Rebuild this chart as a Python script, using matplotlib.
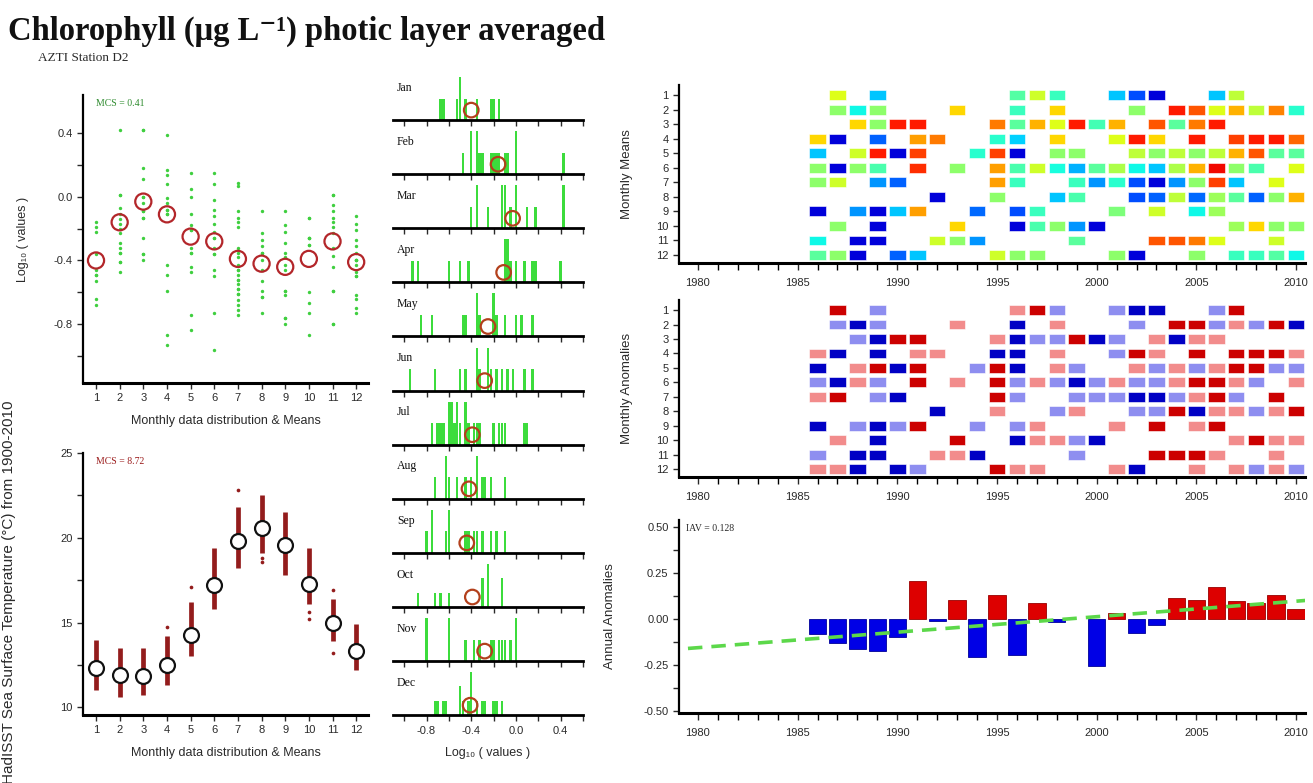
import numpy as np
import matplotlib
matplotlib.use("Agg")
import matplotlib.pyplot as plt
from matplotlib.ticker import MultipleLocator, NullFormatter

# ---------------- data ----------------
months = list(range(1, 13))
month_names = ["Jan", "Feb", "Mar", "Apr", "May", "Jun",
               "Jul", "Aug", "Sep", "Oct", "Nov", "Dec"]

# log10 chlorophyll observations per month
chl_log = [
    [-0.68, -0.64, -0.53, -0.49, -0.49, -0.46, -0.36, -0.22, -0.19, -0.16],
    [-0.47, -0.41, -0.41, -0.35, -0.35, -0.32, -0.29, -0.23, -0.20, -0.17, -0.14, -0.11, -0.07, 0.01, 0.01, 0.42],
    [-0.40, -0.36, -0.36, -0.26, -0.13, -0.13, -0.09, -0.09, -0.04, 0.00, 0.00, 0.11, 0.18, 0.42, 0.42],
    [-0.93, -0.87, -0.59, -0.49, -0.43, -0.11, -0.11, -0.08, -0.08, -0.04, -0.01, 0.08, 0.14, 0.17, 0.39],
    [-0.84, -0.74, -0.47, -0.44, -0.35, -0.35, -0.32, -0.21, -0.21, -0.18, -0.11, 0.00, 0.05, 0.15],
    [-0.96, -0.73, -0.50, -0.46, -0.36, -0.36, -0.32, -0.26, -0.26, -0.22, -0.17, -0.12, -0.08, -0.02, 0.08, 0.15],
    [-0.74, -0.71, -0.68, -0.65, -0.61, -0.61, -0.58, -0.58, -0.55, -0.52, -0.52, -0.49, -0.46, -0.46,
     -0.43, -0.38, -0.35, -0.32, -0.19, -0.16, -0.13, -0.09, 0.07, 0.09],
    [-0.73, -0.63, -0.63, -0.59, -0.53, -0.46, -0.40, -0.35, -0.35, -0.31, -0.27, -0.23, -0.09],
    [-0.80, -0.76, -0.76, -0.62, -0.59, -0.59, -0.46, -0.43, -0.38, -0.35, -0.29, -0.22, -0.18, -0.09],
    [-0.87, -0.73, -0.67, -0.60, -0.30, -0.30, -0.26, -0.26, -0.26, -0.13, -0.13],
    [-0.80, -0.80, -0.59, -0.59, -0.44, -0.37, -0.32, -0.23, -0.19, -0.16, -0.13, -0.09, -0.05, 0.01, 0.01],
    [-0.73, -0.70, -0.64, -0.62, -0.50, -0.50, -0.47, -0.43, -0.40, -0.40, -0.40, -0.35, -0.31, -0.27,
     -0.21, -0.17, -0.12],
]
chl_mean = [-0.40, -0.16, -0.03, -0.11, -0.25, -0.28, -0.39, -0.42, -0.44, -0.39, -0.28, -0.41]
mcs_chl = 0.41

# HadISST SST per month: dense range, isolated points and means
sst_lo = [11.0, 10.6, 10.7, 11.3, 13.0, 15.8, 18.2, 19.1, 17.8, 16.1, 13.9, 12.2]
sst_hi = [14.0, 13.5, 13.5, 14.2, 16.2, 19.4, 21.8, 22.5, 21.5, 19.4, 16.4, 14.9]
sst_extra_month = [4, 5, 7, 8, 8, 10, 10, 11, 11]
sst_extra_value = [14.75, 17.1, 22.8, 18.8, 18.6, 15.6, 15.2, 16.9, 13.2]
sst_mean = [12.3, 11.9, 11.85, 12.5, 14.25, 17.2, 19.8, 20.6, 19.6, 17.3, 15.0, 13.35]
mcs_sst = 8.72

# monthly means: position on the colour scale (0 = low, 1 = high), per month {year: level}
mean_level = [
    {1987: .62, 1989: .32, 1996: .45, 1997: .60, 1998: .42, 2001: .32, 2002: .20, 2003: .08, 2006: .32, 2007: .58},
    {1987: .52, 1988: .37, 1989: .52, 1993: .68, 1996: .42, 1998: .68, 2002: .52, 2004: .88, 2005: .82,
     2006: .62, 2007: .72, 2008: .58, 2009: .77, 2010: .40},
    {1988: .68, 1989: .52, 1990: .88, 1991: .88, 1995: .78, 1996: .46, 1997: .72, 1998: .62, 1999: .88,
     2000: .43, 2001: .72, 2003: .82, 2004: .46, 2005: .78, 2006: .88},
    {1986: .68, 1987: .08, 1989: .22, 1991: .74, 1992: .78, 1995: .40, 1996: .33, 1998: .68, 2001: .62,
     2002: .88, 2003: .68, 2005: .88, 2007: .84, 2008: .88, 2009: .88, 2010: .80},
    {1986: .32, 1988: .60, 1989: .88, 1990: .08, 1991: .84, 1994: .40, 1995: .84, 1996: .08, 1998: .52,
     1999: .52, 2002: .58, 2003: .52, 2004: .58, 2005: .52, 2006: .58, 2007: .72, 2008: .82, 2009: .46, 2010: .46},
    {1986: .52, 1987: .08, 1988: .52, 1989: .44, 1991: .86, 1993: .52, 1995: .74, 1996: .44, 1997: .60,
     1998: .38, 1999: .30, 2000: .46, 2001: .56, 2002: .37, 2003: .32, 2004: .56, 2005: .72, 2006: .90,
     2007: .52, 2008: .44, 2010: .62},
    {1986: .52, 1987: .60, 1989: .27, 1990: .22, 1995: .74, 1996: .42, 1999: .42, 2000: .27, 2001: .40,
     2002: .20, 2003: .08, 2004: .27, 2005: .52, 2006: .84, 2007: .32, 2009: .62},
    {1992: .08, 1995: .52, 1998: .32, 1999: .44, 2002: .20, 2003: .22, 2004: .58, 2005: .23, 2006: .54,
     2007: .46, 2008: .22, 2009: .52, 2010: .72},
    {1986: .08, 1988: .27, 1989: .08, 1990: .32, 1991: .74, 1994: .23, 1996: .20, 1997: .42, 2001: .50,
     2003: .60, 2005: .37, 2006: .54},
    {1987: .52, 1989: .08, 1993: .68, 1996: .08, 1997: .44, 1998: .52, 1999: .27, 2000: .08, 2007: .54,
     2008: .68, 2009: .52, 2010: .52},
    {1986: .37, 1988: .08, 1989: .08, 1992: .60, 1993: .52, 1994: .27, 1999: .46, 2003: .82, 2004: .82,
     2005: .78, 2006: .62, 2009: .60},
    {1986: .46, 1987: .52, 1988: .08, 1990: .22, 1991: .32, 1995: .60, 1996: .52, 1997: .52, 2001: .52,
     2002: .08, 2005: .52, 2007: .42, 2008: .42, 2009: .45, 2010: .37},
]

# monthly anomalies class: -2 strong neg, -1 weak neg, 1 weak pos, 2 strong pos
anomaly_class = [
    {1987: 2, 1989: -1, 1996: 1, 1997: 2, 1998: -1, 2001: -1, 2002: -2, 2003: -2, 2006: -1, 2007: 2},
    {1987: -1, 1988: -2, 1989: -1, 1993: 1, 1996: -2, 1998: 1, 2002: -1, 2004: 2, 2005: 2, 2006: -1,
     2007: 1, 2008: -1, 2009: 2, 2010: -2},
    {1988: -1, 1989: -2, 1990: 2, 1991: 2, 1995: 1, 1996: -2, 1997: -1, 1998: -1, 1999: 2, 2000: -2,
     2001: -1, 2003: 1, 2004: -2, 2005: 1, 2006: 1},
    {1986: 1, 1987: -2, 1989: -2, 1991: 1, 1992: 1, 1995: -2, 1996: -2, 1998: 1, 2001: -1, 2002: 2,
     2003: 1, 2005: 2, 2007: 2, 2008: 2, 2009: 2, 2010: 1},
    {1986: -2, 1988: 1, 1989: 2, 1990: -2, 1991: 2, 1994: -1, 1995: 2, 1996: -2, 1998: 1, 1999: -1,
     2002: 1, 2003: -1, 2004: 1, 2005: -1, 2006: 1, 2007: 2, 2008: 2, 2009: -1, 2010: -1},
    {1986: -1, 1987: -2, 1988: 1, 1989: -1, 1991: 2, 1993: 1, 1995: 2, 1996: -1, 1997: 1, 1998: -1,
     1999: -2, 2000: -1, 2001: 1, 2002: -1, 2003: -1, 2004: 1, 2005: 2, 2006: 2, 2007: 1, 2008: -1, 2010: 1},
    {1986: 1, 1987: 2, 1989: -1, 1990: -2, 1995: 2, 1996: -1, 1999: -1, 2000: -1, 2001: -1, 2002: -2,
     2003: -2, 2004: -1, 2005: 1, 2006: 2, 2007: -1, 2009: 2},
    {1992: -2, 1995: 1, 1998: -1, 1999: 1, 2002: -1, 2003: -1, 2004: 2, 2005: -2, 2006: 1, 2007: 1,
     2008: -1, 2009: 1, 2010: 2},
    {1986: -2, 1988: -1, 1989: -2, 1990: -1, 1991: 2, 1994: -1, 1996: -1, 1997: 1, 2001: 1, 2003: 2,
     2005: 1, 2006: 2},
    {1987: 1, 1989: -2, 1993: 2, 1996: -2, 1997: 1, 1998: 1, 1999: -1, 2000: -2, 2007: 1, 2008: 2,
     2009: 1, 2010: 1},
    {1986: -1, 1988: -2, 1989: -2, 1992: 1, 1993: 1, 1994: -2, 1999: -1, 2003: 2, 2004: 2, 2005: 2,
     2006: 1, 2009: 1},
    {1986: 1, 1987: 1, 1988: -2, 1990: -2, 1991: -1, 1995: 2, 1996: 1, 1997: 1, 2001: 1, 2002: -2,
     2005: 1, 2007: 1, 2008: -1, 2009: 1, 2010: -1},
]
anomaly_colors = {2: "#cc0000", 1: "#f28c8c", -1: "#8e8ef0", -2: "#0000c4"}

# annual anomalies 1986-2010 (1999 missing)
annual_years = list(range(1986, 2011))
annual_anom = [-0.083, -0.13, -0.162, -0.175, -0.097, 0.206, -0.009, 0.105, -0.206, 0.13,
               -0.199, 0.086, -0.015, np.nan, -0.257, 0.03, -0.075, -0.035, 0.115, 0.105,
               0.175, 0.095, 0.085, 0.13, 0.055]
iav = 0.128

# ---------------- figure ----------------
W, H = 1313, 783
fig = plt.figure(figsize=(W / 100, H / 100), dpi=100)
fig.patch.set_facecolor("white")

SANS = ["Liberation Sans", "DejaVu Sans"]
SERIF = ["Liberation Serif", "DejaVu Serif"]
TXT = "#2a2a2a"


def box(l, t, r, b):
    # pixel box (left, top, right, bottom) -> figure fraction
    return [l / W, 1 - b / H, (r - l) / W, (b - t) / H]


def r_style(ax, left=True):
    ax.spines["top"].set_visible(False)
    ax.spines["right"].set_visible(False)
    ax.spines["left"].set_visible(left)
    ax.spines["left"].set_linewidth(1.6)
    ax.spines["bottom"].set_linewidth(2.2)
    ax.tick_params(direction="out", length=4, width=1, labelsize=8, colors=TXT)
    for lab in ax.get_xticklabels() + ax.get_yticklabels():
        lab.set_family(SANS)


def sparse_labels(ticks, step, fmt):
    out = []
    for t in ticks:
        k = t / step
        out.append(fmt.format(round(t, 6) + 0.0) if abs(k - round(k)) < 1e-6 else "")
    return out


# title
fig.text(8 / W, 1 - 40 / H, "Chlorophyll (\u03bcg L\u207b\u00b9) photic layer averaged",
         family=SERIF, weight="bold", size=23.5, color="#111111", va="baseline")
fig.text(38 / W, 1 - 61 / H, "AZTI Station D2", family=SERIF, size=9.5, color=TXT, va="baseline")

# ---- top-left: monthly log10 distribution ----
ax1 = fig.add_axes(box(83, 95, 368, 383))
for m, vals in zip(months, chl_log):
    ax1.scatter([m] * len(vals), vals, s=6, color="#3fcf3f", lw=0, zorder=2)
ax1.scatter(months, chl_mean, s=135, facecolor="none", edgecolor="#b3262a", lw=1.6, zorder=3)
ax1.set_xlim(0.45, 12.5)
ax1.set_ylim(-1.17, 0.64)
ax1.set_xticks(months)
yt = np.round(np.arange(-1.0, 0.41, 0.2), 2)
ax1.set_yticks(yt)
ax1.set_yticklabels(sparse_labels(yt, 0.4, "{:.1f}"))
r_style(ax1)
ax1.set_ylabel("Log\u2081\u2080 ( values )", family=SANS, size=9, color=TXT)
ax1.yaxis.set_label_coords(-0.19, 0.5)
ax1.set_xlabel("Monthly data distribution & Means", family=SANS, size=9, color=TXT, labelpad=8)
ax1.text(0.045, 0.985, "MCS = %.2f" % mcs_chl, transform=ax1.transAxes, family=SERIF,
         size=7, color="#2e8b2e", va="top")

# ---- bottom-left: SST distribution ----
ax2 = fig.add_axes(box(83, 453, 368, 715))
ax2.vlines(months, sst_lo, sst_hi, color="#931c1c", lw=3.4, zorder=2)
ax2.scatter(sst_extra_month, sst_extra_value, s=7, color="#931c1c", lw=0, zorder=2)
ax2.scatter(months, sst_mean, s=115, facecolor="white", edgecolor="#111111", lw=1.6, zorder=3)
ax2.set_xlim(0.45, 12.5)
ax2.set_ylim(9.55, 25)
ax2.set_xticks(months)
yt2 = np.arange(10, 25.1, 2.5)
ax2.set_yticks(yt2)
ax2.set_yticklabels(sparse_labels(yt2, 5, "{:.0f}"))
r_style(ax2)
ax2.set_xlabel("Monthly data distribution & Means", family=SANS, size=9, color=TXT, labelpad=8)
ax2.text(0.045, 0.985, "MCS = %.2f" % mcs_sst, transform=ax2.transAxes, family=SERIF,
         size=7, color="#9b1c1c", va="top")
fig.text(9 / W, 1 - 592 / H, "HadISST Sea Surface Temperature (\u00b0C) from 1900-2010",
         family=SANS, size=11, color=TXT, rotation=90, ha="center", va="center")

# ---- middle: monthly histograms ----
bins = np.arange(-1.1125, 0.62, 0.025)
for i, (name, vals) in enumerate(zip(month_names, chl_log)):
    base = 120 + i * 54.1
    ax = fig.add_axes(box(393, base - 52, 583, base))
    n, _, _ = ax.hist(vals, bins=bins, rwidth=0.88, color="#3cdc3c", lw=0, zorder=2)
    top = n.max() * 1.21
    ax.set_ylim(0, top)
    ax.set_xlim(-1.1, 0.6)
    ax.scatter([chl_mean[i]], [top * 0.19], s=110, facecolor="none", edgecolor="#b3401c",
               lw=1.6, zorder=3, clip_on=False)
    ax.set_yticks([])
    xt = np.round(np.arange(-1.0, 0.61, 0.2), 2)
    ax.set_xticks(xt)
    r_style(ax, left=False)
    ax.spines["bottom"].set_linewidth(2.0)
    ax.patch.set_alpha(0)
    if i == 11:
        ax.set_xticklabels(sparse_labels(xt, 0.4, "{:.1f}"), family=SANS)
        ax.set_xlabel("Log\u2081\u2080 ( values )", family=SANS, size=9, color=TXT, labelpad=8)
    else:
        ax.xaxis.set_major_formatter(NullFormatter())
    ax.text(0.02, 0.62, name, transform=ax.transAxes, family=SERIF, size=8.5, color="#111111", va="center")

# ---- right: monthly means heatmap ----
YL = (1979.05, 2010.45)
cmap = plt.get_cmap("jet")


def year_axis(ax):
    ax.set_xlim(*YL)
    ax.xaxis.set_major_locator(MultipleLocator(5))
    ax.xaxis.set_minor_locator(MultipleLocator(1))
    ax.tick_params(axis="x", which="both", length=5, width=1, pad=6)


axm = fig.add_axes(box(679, 85, 1305, 263))
for r, row in enumerate(mean_level, start=1):
    axm.bar(list(row.keys()), 0.68, bottom=r - 0.34, width=0.83,
            color=cmap(list(row.values())), edgecolor="white", lw=0.4)
axm.set_ylim(12.55, 0.3)
axm.set_yticks(months)
year_axis(axm)
r_style(axm)
axm.tick_params(axis="x", which="both", length=5)
axm.set_ylabel("Monthly Means", family=SANS, size=9.5, color=TXT)
axm.yaxis.set_label_coords(-0.074, 0.5)

# ---- right: monthly anomalies ----
axn = fig.add_axes(box(679, 300, 1305, 477))
for r, row in enumerate(anomaly_class, start=1):
    axn.bar(list(row.keys()), 0.68, bottom=r - 0.34, width=0.83,
            color=[anomaly_colors[c] for c in row.values()], edgecolor="white", lw=0.4)
axn.set_ylim(12.55, 0.3)
axn.set_yticks(months)
year_axis(axn)
r_style(axn)
axn.tick_params(axis="x", which="both", length=5)
axn.set_ylabel("Monthly Anomalies", family=SANS, size=9.5, color=TXT)
axn.yaxis.set_label_coords(-0.074, 0.5)

# ---- right: annual anomalies ----
axa = fig.add_axes(box(679, 520, 1305, 713))
av = np.array(annual_anom)
ay = np.array(annual_years)
axa.bar(ay, av, width=0.87, color=np.where(av > 0, "#dd0000", "#0000e6"),
        edgecolor=np.where(av > 0, "#990000", "#000099"), lw=0.6, zorder=2)
ok = ~np.isnan(av)
slope, icpt = np.polyfit(ay[ok], av[ok], 1)
tx = np.array([1979.5, 2010.5])
axa.plot(tx, slope * tx + icpt, ls=(0, (4, 2.5)), color="#5cd84a", lw=2.6, zorder=3)
axa.set_ylim(-0.512, 0.538)
yt3 = np.arange(-0.5, 0.51, 0.125)
axa.set_yticks(yt3)
axa.set_yticklabels(sparse_labels(yt3, 0.25, "{:.2f}"))
year_axis(axa)
r_style(axa)
axa.tick_params(axis="x", which="both", length=5)
axa.set_ylabel("Annual Anomalies", family=SANS, size=9.5, color=TXT)
axa.yaxis.set_label_coords(-0.1, 0.5)
axa.text(1979.4, 0.49, "IAV = %.3f" % iav, family=SERIF, size=7, color=TXT, va="center")

fig.savefig("out.png", dpi=100)
